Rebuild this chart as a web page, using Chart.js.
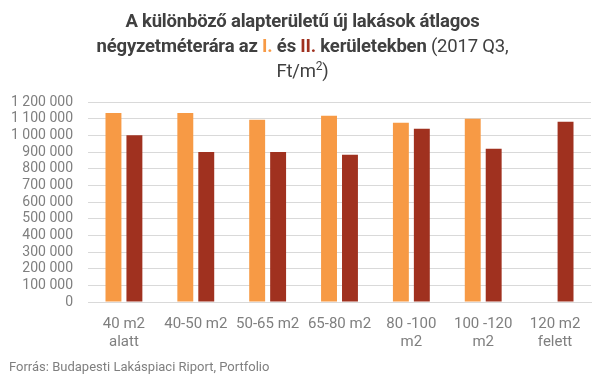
<!DOCTYPE html>
<html>
<head>
<meta charset="utf-8">
<script src="https://cdn.jsdelivr.net/npm/chart.js@4/dist/chart.umd.min.js"></script>
<style>
    html, body { margin: 0; padding: 0; background: #ffffff; }
    .wrap { position: relative; width: 605px; height: 382px; font-family: Roboto, sans-serif; }
    .title {
        position: absolute; left: 0; top: 9px; width: 605px;
        text-align: center; font-size: 18.5px; line-height: 25px; color: #404040;
        font-weight: bold; letter-spacing: -0.2px;
    }
    .title .n { font-weight: normal; }
    .title .i1 { color: #f79a45; }
    .title .i2 { color: #a0311f; }
    .source {
        position: absolute; left: 9px; top: 359px;
        font-size: 13px; color: #7f7f7f;
    }
    canvas { position: absolute; left: 0; top: 0; }
</style>
</head>
<body>
<div class="wrap">
    <canvas id="c" width="605" height="382"></canvas>
    <div class="title">A különböző alapterületű új lakások átlagos<br>négyzetméterára az <span class="i1">I.</span> és <span class="i2">II.</span> kerületekben <span class="n">(2017 Q3,<br>Ft/m<sup style="font-size:12px;line-height:0">2</sup>)</span></div>
    <div class="source">Forrás: Budapesti Lakáspiaci Riport, Portfolio</div>
</div>
<script>
const categories = [
    ['40 m2', 'alatt'], '40-50 m2', '50-65 m2', '65-80 m2',
    ['80 -100', 'm2'], ['100 -120', 'm2'], ['120 m2', 'felett']
];
const district1 = [1134000, 1134000, 1094000, 1118000, 1076000, 1100000, null];
const district2 = [1000000, 900000, 900000, 884000, 1040000, 920000, 1082000];

const formatTick = v => v.toString().replace(/\B(?=(\d{3})+(?!\d))/g, ' ');

new Chart(document.getElementById('c').getContext('2d'), {
    type: 'bar',
    data: {
        labels: categories,
        datasets: [{
            label: 'I. kerület',
            data: district1,
            backgroundColor: '#f79a45',
            barPercentage: 0.76,
            categoryPercentage: 0.583
        }, {
            label: 'II. kerület',
            data: district2,
            backgroundColor: '#a0311f',
            barPercentage: 0.76,
            categoryPercentage: 0.583
        }]
    },
    options: {
        responsive: false,
        animation: false,
        layout: { padding: { top: 102, right: 14, bottom: 30, left: 0 } },
        plugins: { legend: { display: false }, tooltip: { enabled: false } },
        scales: {
            x: {
                grid: { display: false, drawTicks: false },
                border: { color: '#d9d9d9', width: 1 },
                ticks: { color: '#7f7f7f', font: { family: 'Roboto', size: 15 }, padding: 13, maxRotation: 0, autoSkip: false },
                afterFit: scale => { scale.height = 50; }
            },
            y: {
                min: 0, max: 1200000,
                grid: { color: '#d9d9d9', lineWidth: 1, drawTicks: false },
                border: { display: false },
                ticks: { stepSize: 100000, autoSkip: false, color: '#7f7f7f', font: { family: 'Roboto', size: 14 }, padding: 15, callback: formatTick },
                afterFit: scale => { scale.width = 88; }
            }
        }
    }
});
</script>
</body>
</html>
